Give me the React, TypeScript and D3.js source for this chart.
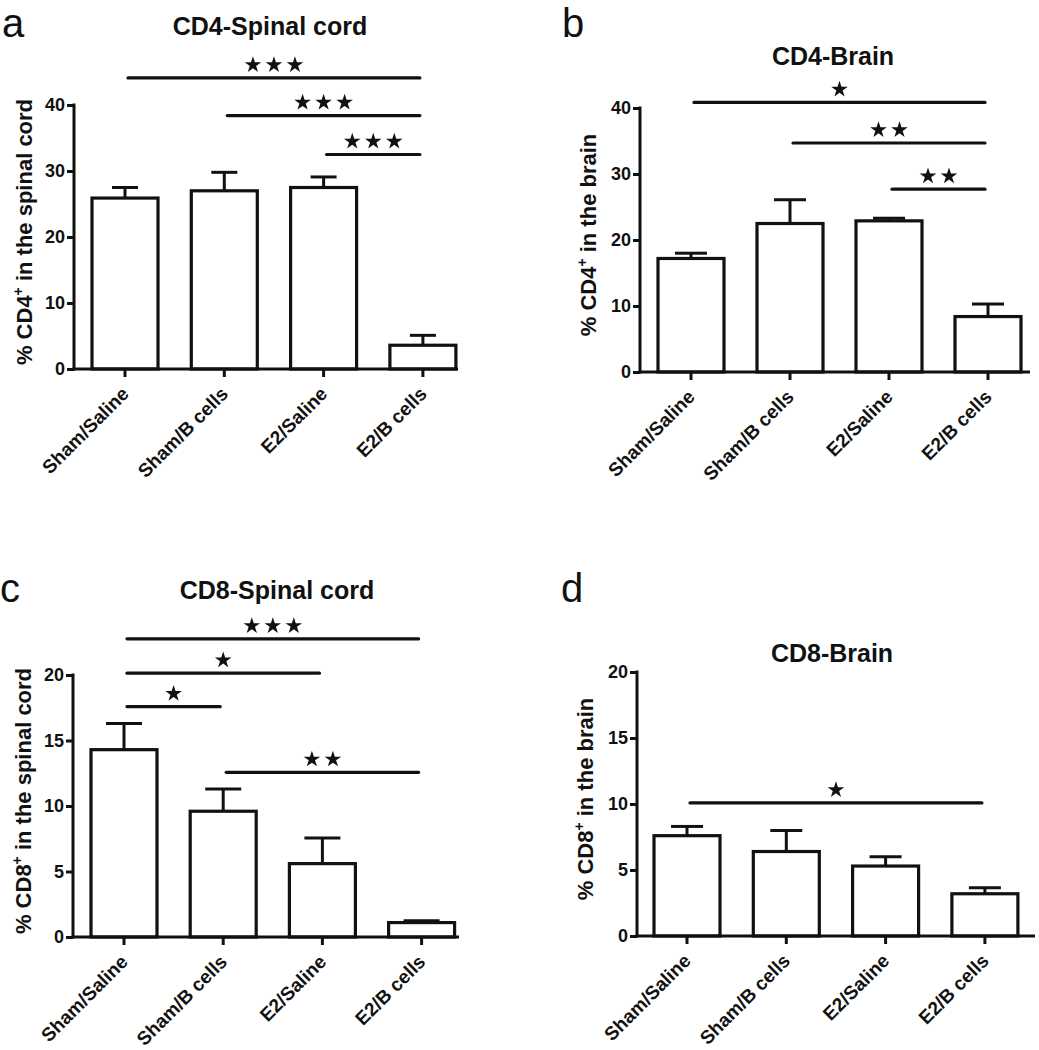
import React, { useEffect, useRef } from "react";
import * as d3 from "d3";

// groups on the x axis
const categories = ["Sham/Saline", "Sham/B cells", "E2/Saline", "E2/B cells"];

// mean and SEM
const cd4SpinalMean = [25.9, 27.0, 27.5, 3.6];
const cd4SpinalSem = [1.6, 2.8, 1.6, 1.5];
const cd4BrainMean = [17.2, 22.5, 22.9, 8.4];
const cd4BrainSem = [0.8, 3.6, 0.4, 1.9];
const cd8SpinalMean = [14.3, 9.6, 5.6, 1.1];
const cd8SpinalSem = [2.0, 1.7, 1.95, 0.15];
const cd8BrainMean = [7.6, 6.4, 5.3, 3.2];
const cd8BrainSem = [0.7, 1.6, 0.7, 0.45];

// significance brackets: [from, to, height (data units), number of stars]
const cd4SpinalSig = [[0, 3, 44.1, 3], [1, 3, 38.4, 3], [2, 3, 32.5, 3]];
const cd4BrainSig = [[0, 3, 40.85, 1], [1, 3, 34.7, 2], [2, 3, 27.7, 2]];
const cd8SpinalSig = [[0, 3, 22.76, 3], [0, 2, 20.14, 1], [0, 1, 17.58, 1], [1, 3, 12.57, 2]];
const cd8BrainSig = [[0, 3, 10.08, 1]];

const cd4Ticks = [0, 10, 20, 30, 40];
const cd8Ticks = [0, 5, 10, 15, 20];

const panels = [
    {
        letter: "a", title: "CD4-Spinal cord", marker: "CD4", where: "in the spinal cord",
        mean: cd4SpinalMean, sem: cd4SpinalSem, sig: cd4SpinalSig, ticks: cd4Ticks,
        letterPos: [2, 37], titlePos: [270, 35], axisX: 74, y0: 369, yTop: 105,
        firstCenter: 125, step: 99.3, axisEnd: 458, labelX: 32, capHalf: 13
    },
    {
        letter: "b", title: "CD4-Brain", marker: "CD4", where: "in the brain",
        mean: cd4BrainMean, sem: cd4BrainSem, sig: cd4BrainSig, ticks: cd4Ticks,
        letterPos: [562, 37], titlePos: [833, 65], axisX: 640, y0: 372, yTop: 108,
        firstCenter: 691, step: 99, axisEnd: 1030, labelX: 596, capHalf: 16
    },
    {
        letter: "c", title: "CD8-Spinal cord", marker: "CD8", where: "in the spinal cord",
        mean: cd8SpinalMean, sem: cd8SpinalSem, sig: cd8SpinalSig, ticks: cd8Ticks,
        letterPos: [0, 602], titlePos: [277, 599], axisX: 73, y0: 937, yTop: 675,
        firstCenter: 124, step: 99.2, axisEnd: 459, labelX: 31, capHalf: 18
    },
    {
        letter: "d", title: "CD8-Brain", marker: "CD8", where: "in the brain",
        mean: cd8BrainMean, sem: cd8BrainSem, sig: cd8BrainSig, ticks: cd8Ticks,
        letterPos: [561, 602], titlePos: [832, 662], axisX: 637, y0: 936, yTop: 672,
        firstCenter: 687, step: 99.3, axisEnd: 1035, labelX: 593, capHalf: 16
    }
];

const FONT = "'Liberation Sans', Arial, sans-serif";
const INK = "#111";

export default function App() {
    const ref = useRef<SVGSVGElement | null>(null);

    useEffect(() => {
        const svg = d3.select(ref.current);
        svg.selectAll("*").remove();

        const star = d3.symbol().type(d3.symbolStar).size(85);

        panels.forEach(p => {
            const g = svg.append("g");
            const top = p.ticks[p.ticks.length - 1];

            const y = d3.scaleLinear().domain([0, top]).range([p.y0, p.yTop]);
            const x = d3.scalePoint<string>()
                .domain(categories)
                .range([p.firstCenter, p.firstCenter + p.step * (categories.length - 1)]);
            const barW = 66;

            // panel letter + title
            g.append("text")
                .attr("x", p.letterPos[0]).attr("y", p.letterPos[1])
                .style("font-family", FONT).style("font-size", "40px")
                .attr("fill", INK)
                .text(p.letter);

            g.append("text")
                .attr("x", p.titlePos[0]).attr("y", p.titlePos[1])
                .attr("text-anchor", "middle")
                .style("font-family", FONT).style("font-size", "25px").style("font-weight", "bold")
                .attr("fill", INK)
                .text(p.title);

            // bars
            g.selectAll("rect.bar")
                .data(p.mean)
                .enter()
                .append("rect")
                .attr("class", "bar")
                .attr("x", (d, i) => x(categories[i])! - barW / 2)
                .attr("y", d => y(d))
                .attr("width", barW)
                .attr("height", d => p.y0 - y(d))
                .attr("fill", "white")
                .attr("stroke", INK)
                .attr("stroke-width", 3.2);

            // error bars (upper only)
            p.mean.forEach((m, i) => {
                const cx = x(categories[i])!;
                const hi = y(m + p.sem[i]);
                g.append("line")
                    .attr("x1", cx).attr("x2", cx)
                    .attr("y1", y(m)).attr("y2", hi)
                    .attr("stroke", INK).attr("stroke-width", 3);
                g.append("line")
                    .attr("x1", cx - p.capHalf).attr("x2", cx + p.capHalf)
                    .attr("y1", hi).attr("y2", hi)
                    .attr("stroke", INK).attr("stroke-width", 3);
            });

            // y axis
            const yAxis = d3.axisLeft(y).tickValues(p.ticks).tickSize(7).tickPadding(2).tickFormat(d3.format("d"));
            const ya = g.append("g")
                .attr("transform", "translate(" + p.axisX + ",0)")
                .call(yAxis);
            ya.select(".domain").remove();
            ya.selectAll(".tick line").attr("stroke", INK).attr("stroke-width", 3);
            ya.selectAll(".tick text")
                .attr("fill", INK)
                .style("font-family", FONT).style("font-size", "18px").style("font-weight", "bold");
            g.append("line")
                .attr("x1", p.axisX).attr("x2", p.axisX)
                .attr("y1", p.yTop - 1.5).attr("y2", p.y0 + 1.5)
                .attr("stroke", INK).attr("stroke-width", 3);

            // x axis
            g.append("line")
                .attr("x1", p.axisX - 1.5).attr("x2", p.axisEnd)
                .attr("y1", p.y0).attr("y2", p.y0)
                .attr("stroke", INK).attr("stroke-width", 3);

            categories.forEach(c => {
                const cx = x(c)!;
                g.append("line")
                    .attr("x1", cx).attr("x2", cx)
                    .attr("y1", p.y0).attr("y2", p.y0 + 8)
                    .attr("stroke", INK).attr("stroke-width", 3);
                g.append("text")
                    .attr("transform", "translate(" + (cx + 5) + "," + (p.y0 + 26) + ") rotate(-45)")
                    .attr("text-anchor", "end")
                    .style("font-family", FONT).style("font-size", "19px").style("font-weight", "bold")
                    .attr("fill", INK)
                    .text(c);
            });

            // y label with superscript +
            const lab = g.append("text")
                .attr("transform", "translate(" + p.labelX + "," + ((p.y0 + p.yTop) / 2 - 5) + ") rotate(-90)")
                .attr("text-anchor", "middle")
                .style("font-family", FONT).style("font-size", "22px").style("font-weight", "bold")
                .attr("fill", INK);
            lab.append("tspan").text("% " + p.marker);
            lab.append("tspan").attr("dy", -9).style("font-size", "14px").text("+");
            lab.append("tspan").attr("dy", 9).text(" " + p.where);

            // significance brackets
            p.sig.forEach(s => {
                const [from, to, h, n] = s;
                const x1 = x(categories[from])! + 3;
                const x2 = x(categories[to])! - 3;
                const yy = y(h);
                g.append("line")
                    .attr("x1", x1).attr("x2", x2)
                    .attr("y1", yy).attr("y2", yy)
                    .attr("stroke", INK).attr("stroke-width", 3.2)
                    .attr("stroke-linecap", "round");
                const mid = (x1 + x2) / 2;
                for (let k = 0; k < n; k++) {
                    const sx = mid + (k - (n - 1) / 2) * 21;
                    g.append("path")
                        .attr("d", star())
                        .attr("transform", "translate(" + sx + "," + (yy - 13) + ")")
                        .attr("fill", INK);
                }
            });
        });
    }, []);

    return (
        <svg
            ref={ref}
            width={1039}
            height={1050}
            style={{ position: "absolute", left: 0, top: 0, background: "white" }}
        />
    );
}
